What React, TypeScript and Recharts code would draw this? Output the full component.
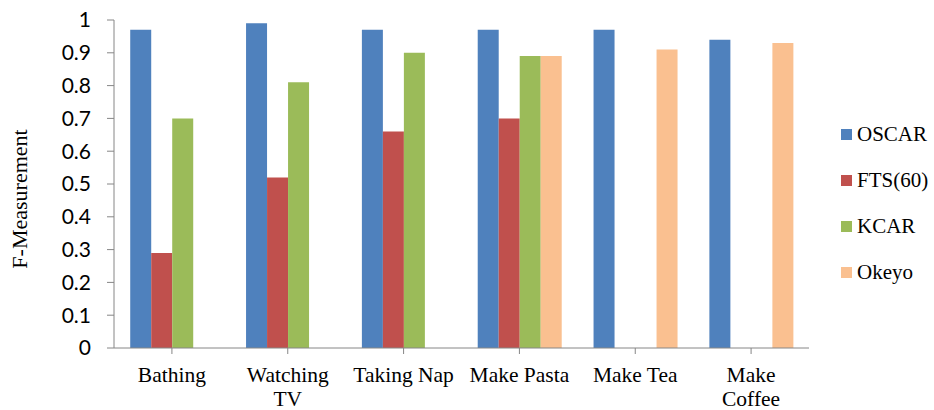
import { BarChart, Bar, XAxis, YAxis, Legend, Label } from 'recharts';

const categories = ['Bathing', 'Watching TV', 'Taking Nap', 'Make Pasta', 'Make Tea', 'Make Coffee'];
const tickLines: Record<string, string[]> = {
  'Bathing': ['Bathing'],
  'Watching TV': ['Watching', 'TV'],
  'Taking Nap': ['Taking Nap'],
  'Make Pasta': ['Make Pasta'],
  'Make Tea': ['Make Tea'],
  'Make Coffee': ['Make', 'Coffee'],
};

const oscar = [0.97, 0.99, 0.97, 0.97, 0.97, 0.94];
const fts60 = [0.29, 0.52, 0.66, 0.7, null, null];
const kcar = [0.7, 0.81, 0.9, 0.89, null, null];
const okeyo = [null, null, null, 0.89, 0.91, 0.93];

const yTicks = [0, 0.1, 0.2, 0.3, 0.4, 0.5, 0.6, 0.7, 0.8, 0.9, 1];

const series = [
  { key: 'OSCAR', values: oscar, color: '#4F81BD' },
  { key: 'FTS(60)', values: fts60, color: '#C0504D' },
  { key: 'KCAR', values: kcar, color: '#9BBB59' },
  { key: 'Okeyo', values: okeyo, color: '#FAC090' },
];

const data = categories.map((name, i) => {
  const row: Record<string, string | number | null> = { name };
  series.forEach((s) => {
    row[s.key] = s.values[i];
  });
  return row;
});

const serif = "'Liberation Serif', 'Times New Roman', Times, 'DejaVu Serif', serif";

function CategoryTick({ x, y, payload }: any) {
  const lines = tickLines[payload.value] ?? [payload.value];
  return (
    <text x={x} y={y} textAnchor="middle" style={{ fontFamily: serif }} fontSize={21.5} fill="#000">
      {lines.map((line, i) => (
        <tspan key={line} x={x} dy={i === 0 ? 26 : 24}>
          {line}
        </tspan>
      ))}
    </text>
  );
}

function LegendContent() {
  return (
    <div style={{ fontFamily: serif, fontSize: 21, color: '#000' }}>
      {series.map((s) => (
        <div key={s.key} style={{ height: 46, display: 'flex', alignItems: 'center' }}>
          <span style={{ width: 11, height: 11, background: s.color, marginRight: 5, display: 'inline-block' }} />
          {s.key}
        </div>
      ))}
    </div>
  );
}

export default function App() {
  return (
    <div style={{ position: 'absolute', left: 0, top: 0, background: '#fff' }}>
      <BarChart
        width={934}
        height={410}
        data={data}
        margin={{ top: 20, right: 32, left: 0, bottom: 0 }}
        barCategoryGap="14%"
        barGap={0}
      >
        <XAxis
          dataKey="name"
          height={62}
          stroke="#868686"
          tickLine={{ stroke: '#868686' }}
          tickSize={6}
          tick={<CategoryTick />}
          interval={0}
        />
        <YAxis
          width={114}
          domain={[0, 1]}
          ticks={yTicks}
          interval={0}
          stroke="#868686"
          tickSize={7}
          tickMargin={16}
          tick={{ fontFamily: 'Lato, "Open Sans", sans-serif', fontSize: 21, fill: '#000' }}
        >
          <Label
            value="F-Measurement"
            angle={-90}
            position="insideLeft"
            offset={0}
            style={{ fontFamily: serif, fontSize: 22, fill: '#000', textAnchor: 'middle' }}
            dx={19}
            dy={15}
          />
        </YAxis>
        <Legend
          layout="vertical"
          align="right"
          verticalAlign="top"
          content={<LegendContent />}
          wrapperStyle={{ left: 841, top: 111, width: 93 }}
        />
        {series.map((s) => (
          <Bar key={s.key} dataKey={s.key} fill={s.color} isAnimationActive={false} />
        ))}
      </BarChart>
    </div>
  );
}
